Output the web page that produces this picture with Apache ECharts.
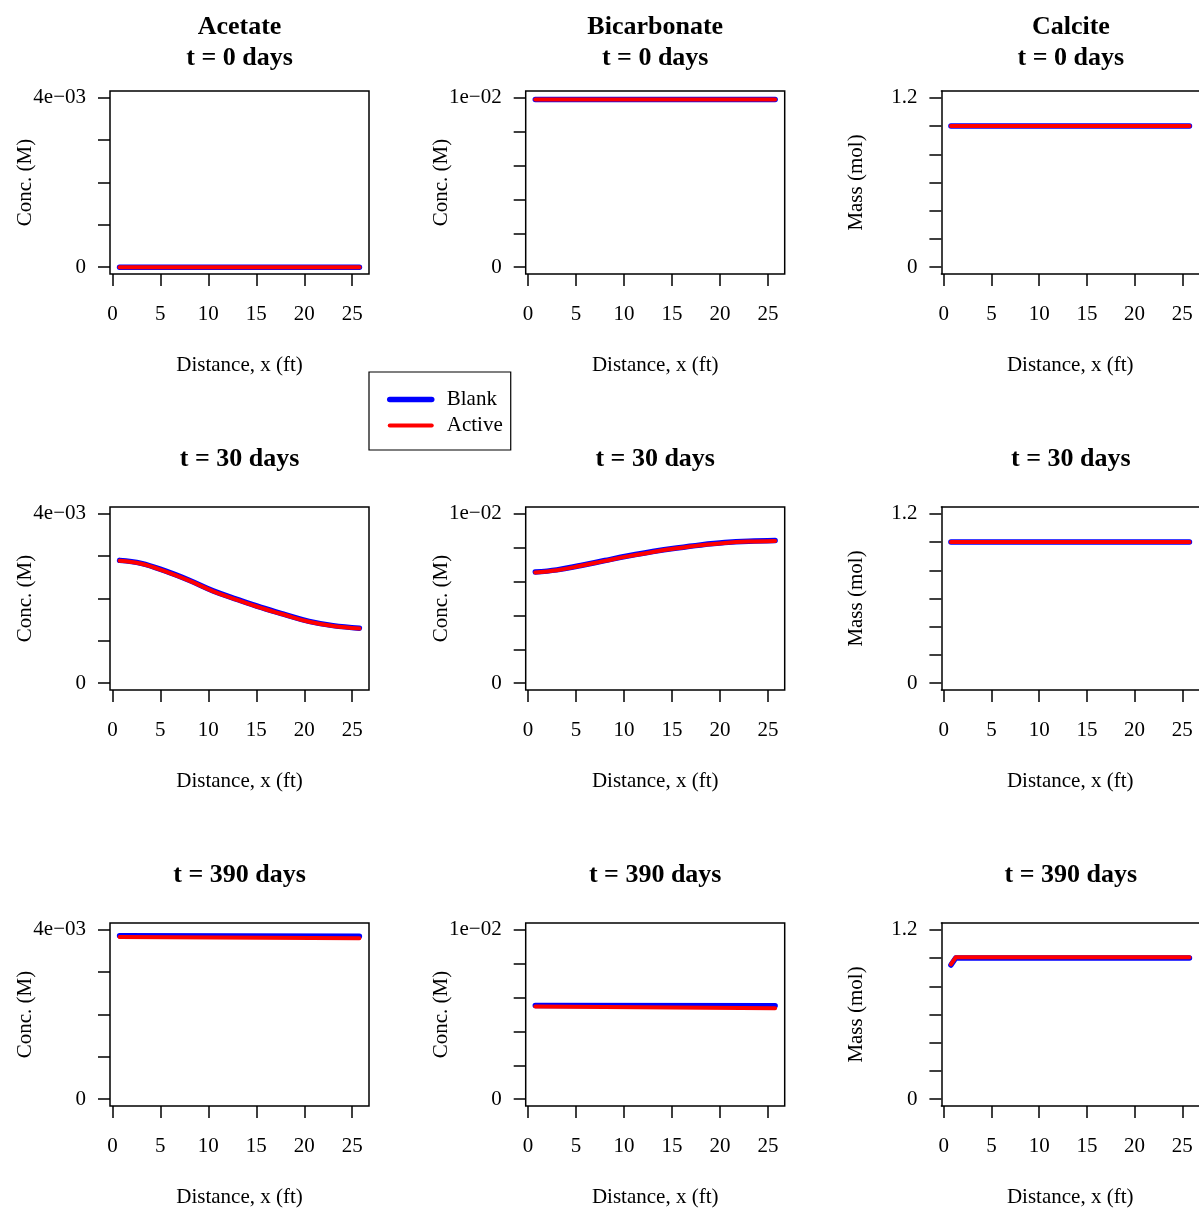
<!DOCTYPE html>
<html>
<head>
<meta charset="utf-8">
<script src="https://cdn.jsdelivr.net/npm/echarts@6/dist/echarts.min.js"></script>
<style>
html,body{margin:0;padding:0;background:#fff;}
#chart{width:1199px;height:1209px;}
</style>
</head>
<body>
<div id="chart"></div>
<script>
// ---------- data ----------
const species = ['Acetate', 'Bicarbonate', 'Calcite'];
const times = ['t = 0 days', 't = 30 days', 't = 390 days'];
const yTitles = ['Conc. (M)', 'Conc. (M)', 'Mass (mol)'];
const xTitle = 'Distance, x (ft)';
const xTicks = [0, 5, 10, 15, 20, 25];

const acetateTicks = [0, 0.001, 0.002, 0.003, 0.004];
const acetateLabelVals = [0, 0.004];
const acetateLabelText = ['0', '4e\u221203'];
const bicarbTicks = [0, 0.002, 0.004, 0.006, 0.008, 0.01];
const bicarbLabelVals = [0, 0.01];
const bicarbLabelText = ['0', '1e\u221202'];
const calciteTicks = [0, 0.2, 0.4, 0.6, 0.8, 1.0, 1.2];
const calciteLabelVals = [0, 1.2];
const calciteLabelText = ['0', '1.2'];

const distFlat = [0.75, 25.75];
const distCurve = [0.75, 3, 5.5, 8, 10.5, 13, 15.5, 18, 20.5, 23, 25.75];
const distCalcite390 = [0.75, 1.25, 25.75];

// t = 0 days
const acetate0Blank = [0, 0];
const acetate0Active = [0, 0];
const bicarb0Blank = [0.0099, 0.0099];
const bicarb0Active = [0.0099, 0.0099];
const calcite0Blank = [1.0, 1.0];
const calcite0Active = [1.0, 1.0];
// t = 30 days
const acetate30Blank = [0.00290, 0.00283, 0.00265, 0.00243, 0.00218, 0.00198, 0.00179, 0.00162, 0.00146, 0.00136, 0.00130];
const acetate30Active = [0.00289, 0.00282, 0.00264, 0.00242, 0.00217, 0.00197, 0.00178, 0.00161, 0.00145, 0.00135, 0.00129];
const bicarb30Blank = [0.00656, 0.00669, 0.00695, 0.00724, 0.00752, 0.00777, 0.00798, 0.00816, 0.00830, 0.00838, 0.00842];
const bicarb30Active = [0.00654, 0.00667, 0.00693, 0.00722, 0.00750, 0.00775, 0.00796, 0.00814, 0.00828, 0.00836, 0.00840];
const calcite30Blank = [1.0, 1.0];
const calcite30Active = [1.0, 1.0];
// t = 390 days
const acetate390Blank = [0.00386, 0.00385];
const acetate390Active = [0.00383, 0.00380];
const bicarb390Blank = [0.00553, 0.00551];
const bicarb390Active = [0.00547, 0.00537];
const calcite390Blank = [0.95, 1.0, 1.0];
const calcite390Active = [0.955, 1.005, 1.005];

// ---------- layout ----------
const FONT = '"Liberation Serif", "Times New Roman", serif';
const colLeft = [110, 525.7, 941.4];
const rowTop = [91, 507, 923];
const boxW = 259, boxH = 183;

const panels = [
  // [row, col, xData, blank, active]
  [0, 0, distFlat, acetate0Blank, acetate0Active],
  [0, 1, distFlat, bicarb0Blank, bicarb0Active],
  [0, 2, distFlat, calcite0Blank, calcite0Active],
  [1, 0, distCurve, acetate30Blank, acetate30Active],
  [1, 1, distCurve, bicarb30Blank, bicarb30Active],
  [1, 2, distFlat, calcite30Blank, calcite30Active],
  [2, 0, distFlat, acetate390Blank, acetate390Active],
  [2, 1, distFlat, bicarb390Blank, bicarb390Active],
  [2, 2, distCalcite390, calcite390Blank, calcite390Active]
];
const yConf = [
  {min: -0.00016, max: 0.00416, ticks: acetateTicks, lv: acetateLabelVals, lt: acetateLabelText},
  {min: -0.0004, max: 0.0104, ticks: bicarbTicks, lv: bicarbLabelVals, lt: bicarbLabelText},
  {min: -0.048, max: 1.248, ticks: calciteTicks, lv: calciteLabelVals, lt: calciteLabelText}
];

const grids = [], xAxes = [], yAxes = [], series = [], graphics = [];
const mkLine = (show) => ({show: show, onZero: false, lineStyle: {color: '#000', width: 1.5}});
panels.forEach((p, i) => {
  const [r, c, xd, blank, active] = p;
  const openRight = (c === 2);   // right edge of the last column lies off the page
  grids.push({left: colLeft[c], top: rowTop[r], width: boxW, height: boxH,
    show: !openRight, borderColor: '#000', borderWidth: 1.5, backgroundColor: 'transparent', containLabel: false});
  xAxes.push({
    type: 'value', gridIndex: i, position: 'bottom', min: -0.25, max: 26.75,
    axisLine: mkLine(openRight),
    axisTick: {show: true, inside: false, length: 12, lineStyle: {color: '#000', width: 1.5}, customValues: xTicks},
    axisLabel: {show: true, margin: 30, color: '#000', fontFamily: FONT, fontSize: 21, customValues: xTicks,
      formatter: v => String(Math.round(v))},
    splitLine: {show: false},
    name: xTitle, nameLocation: 'middle', nameGap: 81, nameMoveOverlap: false,
    nameTextStyle: {color: '#000', fontFamily: FONT, fontSize: 21}
  });
  const yc = yConf[c];
  yAxes.push({
    type: 'value', gridIndex: i, position: 'left', min: yc.min, max: yc.max,
    axisLine: mkLine(openRight),
    axisTick: {show: true, inside: false, length: 12, lineStyle: {color: '#000', width: 1.5}, customValues: yc.ticks},
    axisLabel: {show: true, margin: 24, padding: [6, 0, 0, 0], color: '#000', fontFamily: FONT, fontSize: 21, customValues: yc.lv,
      formatter: v => {
        let best = 0;
        yc.lv.forEach((t, k) => { if (Math.abs(t - v) < Math.abs(yc.lv[best] - v)) best = k; });
        return yc.lt[best];
      }},
    splitLine: {show: false},
    name: yTitles[c], nameLocation: 'middle', nameGap: 74, nameMoveOverlap: false,
    nameTextStyle: {color: '#000', fontFamily: FONT, fontSize: 21}
  });
  series.push({
    name: 'Blank', type: 'line', xAxisIndex: i, yAxisIndex: i, symbol: 'none',
    data: xd.map((x, k) => [x, blank[k]]), smooth: xd.length > 3 ? 0.4 : false,
    lineStyle: {color: '#0000FF', width: 5.5, cap: 'round', join: 'round'},
    itemStyle: {color: '#0000FF'}, z: 2, silent: true
  });
  series.push({
    name: 'Active', type: 'line', xAxisIndex: i, yAxisIndex: i, symbol: 'none',
    data: xd.map((x, k) => [x, active[k]]), smooth: xd.length > 3 ? 0.4 : false,
    lineStyle: {color: '#FF0000', width: 4, cap: 'round', join: 'round'},
    itemStyle: {color: '#FF0000'}, z: 3, silent: true
  });
});
// top edge of the open-right boxes: a bare axis line along the top of those grids
panels.forEach((p, i) => {
  if (p[1] !== 2) return;
  xAxes.push({
    type: 'value', gridIndex: i, position: 'top', min: -0.25, max: 26.75,
    axisLine: mkLine(true),
    axisTick: {show: false}, axisLabel: {show: false}, splitLine: {show: false}
  });
});

// panel titles
species.forEach((s, c) => {
  const cx = colLeft[c] + boxW / 2;
  graphics.push({type: 'text', x: cx, y: 27,
    style: {text: s, font: 'bold 26px ' + FONT, fill: '#000', textAlign: 'center', textVerticalAlign: 'middle'}});
  graphics.push({type: 'text', x: cx, y: 58,
    style: {text: times[0], font: 'bold 26px ' + FONT, fill: '#000', textAlign: 'center', textVerticalAlign: 'middle'}});
  graphics.push({type: 'text', x: cx, y: 459,
    style: {text: times[1], font: 'bold 26px ' + FONT, fill: '#000', textAlign: 'center', textVerticalAlign: 'middle'}});
  graphics.push({type: 'text', x: cx, y: 875,
    style: {text: times[2], font: 'bold 26px ' + FONT, fill: '#000', textAlign: 'center', textVerticalAlign: 'middle'}});
});

const chart = echarts.init(document.getElementById('chart'));
chart.setOption({
  animation: false,
  backgroundColor: '#fff',
  grid: grids,
  xAxis: xAxes,
  yAxis: yAxes,
  series: series,
  legend: {
    data: [
      {name: 'Blank', lineStyle: {width: 5.5, cap: 'round', color: '#0000FF'}},
      {name: 'Active', lineStyle: {width: 4, cap: 'round', color: '#FF0000'}}
    ],
    orient: 'vertical', left: 369, top: 372,
    itemWidth: 42, itemHeight: 14, itemGap: 5,
    padding: [17, 8, 14, 18],
    borderColor: '#000', borderWidth: 1.2, backgroundColor: '#fff',
    itemStyle: {opacity: 0},
    textStyle: {color: '#000', fontFamily: FONT, fontSize: 21, padding: [0, 0, 0, 10]},
    selectedMode: false
  },
  graphic: graphics
});
</script>
</body>
</html>
